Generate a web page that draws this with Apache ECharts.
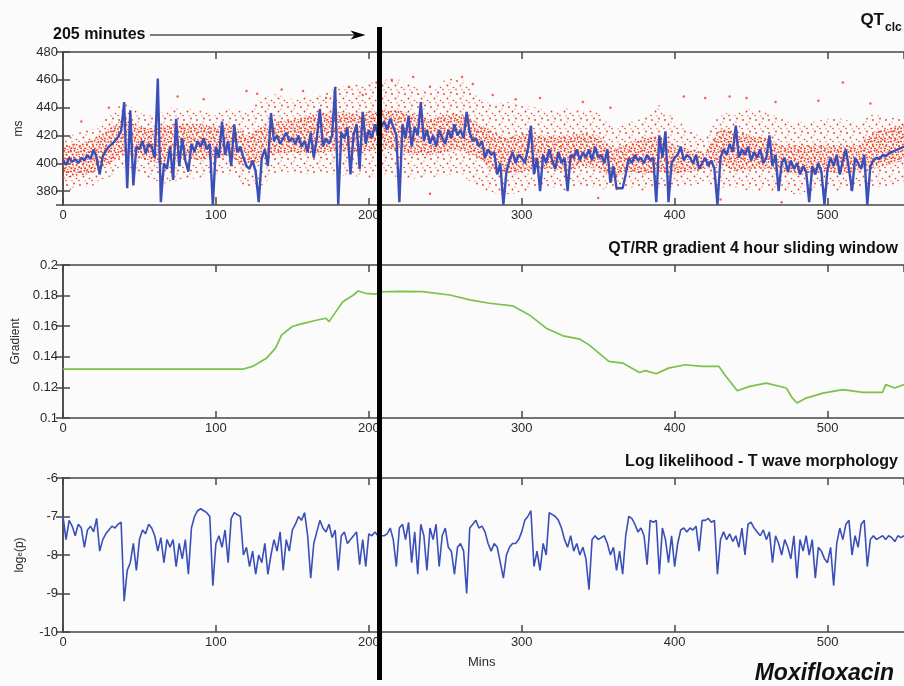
<!DOCTYPE html>
<html><head><meta charset="utf-8">
<script src="https://cdn.jsdelivr.net/npm/echarts@6/dist/echarts.min.js"></script>
<style>html,body{margin:0;padding:0;background:#fbfbfb}#c{width:904px;height:686px}</style>
</head><body><div id="c"></div>
<script>
// ---------------- DATA ----------------
const xTicks = [0, 100, 200, 300, 400, 500];
const markerMinute = 207;            // vertical black line ("205 minutes")
const markerLabel = '205 minutes';

// Panel 1: QTclc, blue trace sampled every 2 minutes (ms)
const qtStep = 2;
const qtBlue = [
402,399,404,401,403, 400,404,402,406,403, 410,404,392,405,409, 412,414,416,419,423,
444,382,438,384,412, 410,416,407,414,412, 404,461,372,400,396, 412,388,432,398,418,
402,394,414,408,416, 412,418,410,414,370, 412,404,430,406,416, 398,428,408,412,404,
398,396,402,394,372, 404,410,398,436,416, 420,414,418,422,416, 418,414,420,412,416,
408,422,404,418,439, 412,418,414,420,455, 370,422,418,426,392, 420,428,396,437,414,
424,418,428,420,426, 430,424,432,426,420, 372,428,418,434,412, 426,420,444,416,424,
414,420,412,424,418, 414,424,418,428,420, 424,418,437,422,416, 418,412,416,404,410,
406,408,392,400,370, 394,402,408,400,406, 404,400,410,427,392, 404,380,406,400,410,
402,396,408,400,404, 380,406,404,410,402, 408,404,410,402,412, 404,406,400,410,386,
398,382,382,382,392, 404,400,406,402,404, 400,406,402,404,372, 420,404,423,372,400,
404,406,412,402,406, 404,400,406,396,400, 404,398,402,396,370, 404,410,406,414,408,
427,404,410,406,412, 402,408,404,410,400, 404,420,398,406,380, 400,404,394,402,396,
400,392,398,394,372, 398,392,400,394,370, 396,404,398,406,392, 402,410,396,380,404,
400,396,406,370,398, 402,404,403,406,405, 407,408,409,410,411, 412
];

// Panel 1: red raw-beat cloud, read as envelopes every 10 minutes (ms)
const redMins = [0,10,20,30,40,50,60,70,80,90,100,110,120,130,140,150,160,170,180,190,200,210,220,230,240,250,260,270,280,290,300,310,320,330,340,350,360,370,380,390,400,410,420,430,440,450,460,470,480,490,500,510,520,530,540,550];
const redCoreLo  = [389,391,393,400,406,404,400,402,404,402,404,405,396,402,407,408,407,408,409,408,409,410,409,406,406,408,410,405,396,392,394,396,396,394,398,396,389,394,392,394,392,394,396,399,394,396,396,394,392,392,394,392,394,396,399,402];
const redCoreHi  = [413,414,417,425,432,426,425,428,429,428,427,428,420,426,430,431,434,436,437,436,437,438,438,435,431,435,436,430,423,418,422,420,420,420,422,420,410,415,418,420,413,410,408,425,423,420,418,413,413,413,413,413,413,423,425,428];
const redOuterLo = [380,382,384,390,397,392,387,385,389,389,392,392,382,384,393,394,392,394,391,391,389,392,390,389,390,391,392,384,379,377,379,382,382,380,384,382,380,382,380,380,382,384,386,382,382,380,380,380,377,380,380,380,382,382,384,386];
const redOuterHi = [420,422,425,435,444,436,434,440,440,438,436,440,436,447,450,446,448,450,455,456,458,460,460,456,450,460,462,450,442,444,442,440,438,440,438,438,425,430,432,442,432,424,420,436,436,440,437,432,430,430,432,432,428,436,432,434];
const redOutliers = [[12,430],[30,440],[62,452],[75,448],[92,446],[100,375],[120,452],[127,450],[143,453],[157,452],[172,447],[187,455],[196,449],[205,458],[215,460],[229,462],[240,455],[240,378],[261,462],[268,457],[281,449],[296,446],[312,447],[340,444],[350,375],[358,440],[406,448],[420,447],[430,374],[436,448],[447,447],[466,444],[470,372],[494,445],[510,458],[528,443]];

// Panel 2: QT/RR gradient (4 hour sliding window)
const gradMins = [0,20,40,60,80,100,118,124,133,139,143,150,154,165,172,174,177,183,190,193,198,204,209,220,235,253,266,279,294,305,316,327,338,344,357,366,377,381,388,396,407,418,429,433,441,449,460,473,477,480,486,497,510,523,536,538,544,550];
const gradVals = [0.132,0.132,0.132,0.132,0.132,0.132,0.132,0.1337,0.139,0.1457,0.1543,0.1598,0.161,0.1637,0.1652,0.163,0.1674,0.176,0.1804,0.183,0.1815,0.181,0.1825,0.1828,0.1826,0.1804,0.1772,0.175,0.1733,0.1674,0.1587,0.1537,0.1515,0.1478,0.137,0.1359,0.1297,0.131,0.1289,0.1326,0.1348,0.1337,0.1337,0.128,0.1178,0.1207,0.1228,0.1196,0.1131,0.1098,0.113,0.1163,0.1185,0.1168,0.1168,0.1218,0.1196,0.1218];

// Panel 3: log likelihood, T wave morphology, every 2 minutes
const llStep = 2;
const llBlue = [
-7.0,-7.6,-7.1,-7.25,-7.5, -7.2,-7.3,-7.8,-7.35,-7.25, -7.4,-7.05,-7.9,-7.6,-7.45, -7.35,-7.25,-7.3,-7.2,-7.15,
-9.2,-8.4,-8.2,-7.7,-8.4, -7.6,-7.35,-7.45,-7.2,-7.3, -7.5,-7.9,-7.55,-8.2,-7.6, -7.8,-7.6,-8.3,-7.7,-8.1,
-7.6,-8.5,-7.3,-7.0,-6.85, -6.8,-6.85,-6.9,-7.0,-8.8, -7.7,-7.5,-7.8,-7.35,-8.2, -7.05,-6.9,-6.95,-7.0,-8.0,
-7.8,-8.3,-7.9,-8.5,-8.0, -8.2,-7.7,-8.5,-8.0,-7.6, -7.9,-7.4,-8.4,-7.6,-7.9, -7.35,-7.2,-7.0,-7.1,-6.9,
-7.5,-8.6,-7.7,-7.4,-7.1, -7.3,-7.4,-7.2,-7.55,-7.35, -8.4,-7.5,-7.4,-7.7,-7.6, -7.5,-7.4,-8.25,-7.6,-8.3,
-7.45,-7.5,-7.4,-7.5,-7.5, -7.5,-7.45,-7.3,-7.6,-8.3, -7.3,-7.2,-7.6,-7.15,-8.2, -7.4,-8.5,-7.2,-7.5,-8.4,
-7.3,-7.6,-7.2,-8.3,-7.5, -7.3,-7.8,-7.9,-8.5,-7.8, -7.7,-7.9,-9.0,-7.3,-7.2, -7.1,-7.3,-7.25,-7.4,-7.7,
-7.9,-7.7,-7.8,-8.2,-8.6, -8.0,-7.8,-7.7,-7.7,-7.6, -7.4,-7.1,-7.0,-6.85,-8.3, -7.9,-8.4,-7.7,-8.0,-6.9,
-6.95,-7.0,-7.1,-7.3,-7.6, -7.8,-7.5,-7.9,-7.7,-8.0, -7.8,-8.1,-8.9,-7.6,-7.5, -7.6,-7.55,-7.5,-7.7,-8.0,
-7.8,-8.4,-7.9,-8.5,-7.5, -7.0,-7.05,-7.2,-7.4,-7.3, -7.5,-8.25,-7.1,-7.15,-7.1, -8.5,-7.3,-7.6,-8.2,-7.5,
-8.3,-7.7,-7.35,-7.3,-7.4, -7.3,-7.35,-7.25,-7.9,-7.1, -7.1,-7.05,-7.15,-7.1,-8.5, -7.6,-7.4,-7.6,-7.45,-7.65,
-7.5,-7.8,-7.3,-8.0,-7.2, -7.15,-7.3,-7.4,-7.5,-7.35, -7.6,-7.4,-8.2,-7.5,-7.7, -8.0,-7.6,-7.8,-8.1,-7.5,
-8.6,-7.6,-7.9,-7.5,-8.0, -7.6,-8.6,-7.8,-7.9,-8.1, -8.2,-7.8,-8.8,-7.7,-7.3, -7.6,-7.2,-7.1,-8.0,-7.5,
-7.8,-7.2,-7.1,-8.3,-7.6, -7.5,-7.6,-7.55,-7.5,-7.6, -7.5,-7.55,-7.65,-7.5,-7.55, -7.5
];

// ---------------- STYLE HELPERS ----------------
const FONT = '"Liberation Sans", Arial, sans-serif';
const BLUE = '#3a4fb8', RED = '#f03c1c', GREEN = '#7cc14a', AX = '#474747';
function tile(size, dots, color) {
  const c = document.createElement('canvas'); c.width = c.height = size;
  const g = c.getContext('2d'); g.fillStyle = color;
  dots.forEach(d => { g.beginPath(); g.arc(d[0], d[1], d[2], 0, Math.PI * 2); g.fill(); });
  return c;
}
const denseTile = tile(10, [[1,1.5,1.0],[4.5,0.8,0.9],[8.5,2,1.0],[2.8,4.6,1.0],[6.6,4.8,0.9],[9.4,6.8,0.9],[1.2,8.2,1.0],[5,8.6,1.0],[7.8,9.4,0.7],[3.6,6.8,0.6],[6.2,2.6,0.6]], RED);
const sparseTile = tile(13, [[2,3,0.9],[9,1.5,0.9],[5.5,7.5,0.9],[11.5,9.5,0.8],[1,11.5,0.8],[8,5,0.6],[7,11.8,0.6]], RED);

const grids = [
  {left: 63, right: -2, top: 52, height: 153},
  {left: 63, right: -2, top: 265, height: 153},
  {left: 63, right: -2, top: 478, height: 154}
];
function xAxes(g) {
  const base = {type: 'value', gridIndex: g, min: 0, max: 550, interval: 100,
    axisLine: {lineStyle: {color: AX, width: 1.5}},
    axisTick: {inside: true, length: 7, lineStyle: {color: AX, width: 1.5}},
    splitLine: {show: false}};
  return [
    Object.assign({}, base, {position: 'bottom', axisLabel: {show: true, fontFamily: FONT, fontSize: 13, color: '#2a2a2a', margin: 4, showMaxLabel: false}}),
    Object.assign({}, base, {position: 'top', axisLabel: {show: false}})
  ];
}
function yAxes(g, opts, name, nameGap) {
  const base = Object.assign({type: 'value', gridIndex: g,
    axisLine: {show: true, lineStyle: {color: AX, width: 1.5}},
    axisTick: {show: true, inside: true, length: 7, lineStyle: {color: AX, width: 1.5}},
    splitLine: {show: false}}, opts);
  return [
    Object.assign({}, base, {position: 'left', name: name, nameLocation: 'middle', nameGap: nameGap, nameRotate: 90,
      nameTextStyle: {fontFamily: FONT, fontSize: 12, color: '#2a2a2a', rich: {s: {fontSize: 8, fontFamily: FONT, color: '#2a2a2a'}}},
      axisLabel: {fontFamily: FONT, fontSize: 13, color: '#2a2a2a', margin: 5, showMinLabel: opts.hideMin ? false : true}}),
    Object.assign({}, base, {position: 'right', axisLabel: {show: false}})
  ];
}

const xAxis = [].concat(xAxes(0), xAxes(1), xAxes(2));
const yAxis = [].concat(
  yAxes(0, {min: 370, max: 480, splitNumber: 5, hideMin: true}, 'ms', 38),
  yAxes(1, {min: 0.1, max: 0.2, interval: 0.02}, 'Gradient', 37),
  yAxes(2, {min: -10, max: -6, interval: 1}, 'log{s|e}(p)', 37)
);

const pair = (xs, ys) => xs.map((x, i) => [x, ys[i]]);
const stepPairs = (ys, step) => ys.map((y, i) => [i * step, y]);

// band drawn through the axes: one quad between consecutive envelope readings
function band(lo, hi, pattern, z) {
  return {
    type: 'custom', xAxisIndex: 0, yAxisIndex: 0, clip: true, z: z, silent: true,
    data: redMins.map((m, i) => [m, lo[i], hi[i]]),
    encode: {x: 0, y: [1, 2]},
    renderItem: function (params, api) {
      const i = params.dataIndex;
      if (i >= redMins.length - 1) return null;
      const a = api.coord([redMins[i], lo[i]]), b = api.coord([redMins[i], hi[i]]);
      const c = api.coord([redMins[i + 1], hi[i + 1]]), d = api.coord([redMins[i + 1], lo[i + 1]]);
      return {type: 'polygon', shape: {points: [a, b, c, d]}, style: {fill: {image: pattern, repeat: 'repeat'}, stroke: null}};
    }
  };
}

const series = [
  band(redOuterLo, redOuterHi, sparseTile, 1),
  band(redCoreLo, redCoreHi, denseTile, 2),
  {type: 'scatter', xAxisIndex: 0, yAxisIndex: 0, symbolSize: 2.5, itemStyle: {color: RED}, data: redOutliers, z: 3},
  {type: 'line', xAxisIndex: 0, yAxisIndex: 0, symbol: 'none', lineStyle: {color: BLUE, width: 2.4}, data: stepPairs(qtBlue, qtStep), z: 4},
  {type: 'line', xAxisIndex: 2, yAxisIndex: 2, symbol: 'none', lineStyle: {color: GREEN, width: 1.7}, data: pair(gradMins, gradVals), z: 4},
  {type: 'line', xAxisIndex: 4, yAxisIndex: 4, symbol: 'none', lineStyle: {color: BLUE, width: 1.6}, data: stepPairs(llBlue, llStep), z: 4}
];

const chart = echarts.init(document.getElementById('c'), null, {renderer: 'canvas'});
chart.setOption({
  animation: false,
  backgroundColor: '#fbfbfb',
  grid: grids, xAxis: xAxis, yAxis: yAxis, series: series
});

const mx = chart.convertToPixel({xAxisIndex: 0}, markerMinute);
const tip = mx - 14;
const bold = '700 16px ' + FONT;
chart.setOption({graphic: [
  {type: 'line', z: 100, shape: {x1: mx, y1: 27, x2: mx, y2: 680}, style: {stroke: '#000', lineWidth: 5}},
  {type: 'line', z: 100, shape: {x1: 150, y1: 35, x2: tip - 10, y2: 35}, style: {stroke: '#000', lineWidth: 1.2}},
  {type: 'polygon', z: 100, shape: {points: [[tip - 15, 30.5], [tip, 35], [tip - 15, 39.5], [tip - 11, 35]]}, style: {fill: '#000'}},
  {type: 'text', z: 100, x: 53, y: 35, style: {text: markerLabel, font: bold, fill: '#111', align: 'left', verticalAlign: 'middle'}},
  {type: 'text', z: 100, x: 884, y: 12, style: {text: 'QT', font: '700 17px ' + FONT, fill: '#111', align: 'right', verticalAlign: 'top'}},
  {type: 'text', z: 100, x: 885, y: 22, style: {text: 'clc', font: '700 12px ' + FONT, fill: '#111', align: 'left', verticalAlign: 'top'}},
  {type: 'text', z: 100, x: 898, y: 241, style: {text: 'QT/RR gradient 4 hour sliding window', font: bold, fill: '#111', align: 'right', verticalAlign: 'top'}},
  {type: 'text', z: 100, x: 898, y: 454, style: {text: 'Log likelihood - T wave morphology', font: bold, fill: '#111', align: 'right', verticalAlign: 'top'}},
  {type: 'text', z: 100, x: 468, y: 662, style: {text: 'Mins', font: '400 13px ' + FONT, fill: '#2a2a2a', align: 'left', verticalAlign: 'middle'}},
  {type: 'text', z: 100, x: 894, y: 685, style: {text: 'Moxifloxacin', font: 'italic 700 23px ' + FONT, fill: '#111', align: 'right', verticalAlign: 'bottom'}}
]});
</script>
</body></html>
